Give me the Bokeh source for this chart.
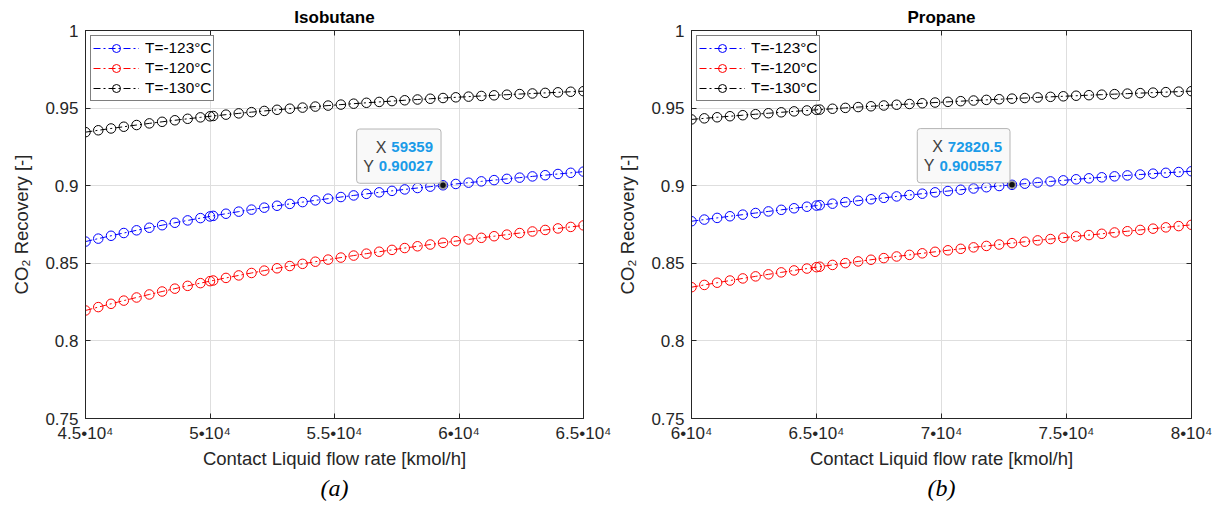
from bokeh.plotting import figure
from bokeh.layouts import row
from bokeh.models import Range1d, FixedTicker, LinearAxis, Title, Label, Legend, LegendItem
from bokeh.embed import file_html
from bokeh.resources import INLINE

FONT = "Liberation Sans"

# ---------------- data ----------------
iso_x = [45000.0, 45512.8, 46025.6, 46538.5, 47051.3, 47564.1, 48076.9, 48589.7, 49102.6, 49615.4,
         50128.2, 50641.0, 51153.8, 51666.7, 52179.5, 52692.3, 53205.1, 53717.9, 54230.8, 54743.6,
         55256.4, 55769.2, 56282.1, 56794.9, 57307.7, 57820.5, 58333.3, 58846.2, 59359.0, 59871.8,
         60384.6, 60897.4, 61410.3, 61923.1, 62435.9, 62948.7, 63461.5, 63974.4, 64487.2, 65000.0]
iso_T123 = [0.86400, 0.86590, 0.86774, 0.86952, 0.87125, 0.87292, 0.87455, 0.87612, 0.87764, 0.87912,
            0.88055, 0.88194, 0.88329, 0.88459, 0.88586, 0.88708, 0.88827, 0.88943, 0.89055, 0.89164,
            0.89270, 0.89373, 0.89474, 0.89571, 0.89667, 0.89760, 0.89851, 0.89940, 0.90027, 0.90112,
            0.90196, 0.90279, 0.90360, 0.90441, 0.90520, 0.90599, 0.90677, 0.90754, 0.90831, 0.90909]
iso_T120 = [0.81960, 0.82178, 0.82390, 0.82596, 0.82797, 0.82992, 0.83182, 0.83367, 0.83547, 0.83722,
            0.83892, 0.84058, 0.84219, 0.84376, 0.84529, 0.84679, 0.84824, 0.84965, 0.85103, 0.85239,
            0.85369, 0.85498, 0.85623, 0.85745, 0.85865, 0.85983, 0.86097, 0.86210, 0.86321, 0.86429,
            0.86536, 0.86642, 0.86745, 0.86848, 0.86949, 0.87050, 0.87148, 0.87247, 0.87344, 0.87442]
iso_T130 = [0.93450, 0.93571, 0.93687, 0.93800, 0.93910, 0.94015, 0.94117, 0.94216, 0.94311, 0.94403,
            0.94492, 0.94578, 0.94660, 0.94740, 0.94817, 0.94891, 0.94963, 0.95032, 0.95099, 0.95163,
            0.95225, 0.95285, 0.95342, 0.95398, 0.95452, 0.95504, 0.95554, 0.95603, 0.95650, 0.95695,
            0.95739, 0.95782, 0.95824, 0.95864, 0.95904, 0.95942, 0.95980, 0.96017, 0.96054, 0.96089]
iso_extra_x = 50000.0
iso_extra = [0.8802, 0.8385, 0.9447]          # T=-123, T=-120, T=-130
iso_tip_index = 28
iso_tip_text = ["59359", "0.90027"]

pro_x = [60000.0, 60512.8, 61025.6, 61538.5, 62051.3, 62564.1, 63076.9, 63589.7, 64102.6, 64615.4,
         65128.2, 65641.0, 66153.8, 66666.7, 67179.5, 67692.3, 68205.1, 68717.9, 69230.8, 69743.6,
         70256.4, 70769.2, 71282.1, 71794.9, 72307.7, 72820.5, 73333.3, 73846.2, 74359.0, 74871.8,
         75384.6, 75897.4, 76410.3, 76923.1, 77435.9, 77948.7, 78461.5, 78974.4, 79487.2, 80000.0]
pro_T123 = [0.87710, 0.87818, 0.87925, 0.88031, 0.88136, 0.88240, 0.88343, 0.88446, 0.88546, 0.88646,
            0.88745, 0.88842, 0.88938, 0.89032, 0.89126, 0.89218, 0.89309, 0.89398, 0.89485, 0.89572,
            0.89656, 0.89740, 0.89821, 0.89901, 0.89979, 0.900557, 0.90131, 0.90204, 0.90275, 0.90344,
            0.90412, 0.90477, 0.90541, 0.90603, 0.90663, 0.90720, 0.90776, 0.90830, 0.90881, 0.90930]
pro_T120 = [0.83460, 0.83606, 0.83749, 0.83889, 0.84025, 0.84158, 0.84288, 0.84415, 0.84540, 0.84661,
            0.84779, 0.84895, 0.85009, 0.85120, 0.85229, 0.85335, 0.85440, 0.85542, 0.85643, 0.85741,
            0.85838, 0.85933, 0.86027, 0.86119, 0.86210, 0.86300, 0.86389, 0.86476, 0.86563, 0.86648,
            0.86733, 0.86818, 0.86901, 0.86985, 0.87067, 0.87150, 0.87232, 0.87315, 0.87397, 0.87480]
pro_T130 = [0.94270, 0.94340, 0.94409, 0.94476, 0.94542, 0.94606, 0.94669, 0.94730, 0.94789, 0.94847,
            0.94904, 0.94959, 0.95014, 0.95066, 0.95118, 0.95168, 0.95217, 0.95265, 0.95312, 0.95358,
            0.95402, 0.95446, 0.95488, 0.95530, 0.95571, 0.95610, 0.95649, 0.95687, 0.95725, 0.95761,
            0.95797, 0.95832, 0.95866, 0.95900, 0.95933, 0.95965, 0.95997, 0.96029, 0.96060, 0.96090]
pro_extra_x = 65000.0
pro_extra = [0.8872, 0.8475, 0.9489]
pro_tip_index = 25
pro_tip_text = ["72820.5", "0.900557"]

series_labels = ["T=-123°C", "T=-120°C", "T=-130°C"]
series_colors = ["#0000ff", "#ff0000", "#000000"]

iso_xticks = [45000, 50000, 55000, 60000, 65000]
iso_xtick_labels = ["4.5•10⁴", "5•10⁴", "5.5•10⁴", "6•10⁴", "6.5•10⁴"]
pro_xticks = [60000, 65000, 70000, 75000, 80000]
pro_xtick_labels = ["6•10⁴", "6.5•10⁴", "7•10⁴", "7.5•10⁴", "8•10⁴"]
yticks = [0.75, 0.8, 0.85, 0.9, 0.95, 1.0]
ytick_labels = ["0.75", "0.8", "0.85", "0.9", "0.95", "1"]

titles = ["Isobutane", "Propane"]
captions = ["(a)", "(b)"]
x_label = "Contact Liquid flow rate [kmol/h]"
y_label = "CO\u2082 Recovery [-]"

AX = "#262626"
TIP_SIZE = 15
TIP_BG = "#f9f9f9"


def num_width(s, size):
    return sum(0.278 if ch == "." else 0.556 for ch in s) * size


def style_axis(ax, ticks, labels, size="17px"):
    ax.ticker = FixedTicker(ticks=ticks)
    ax.major_label_overrides = {t: l for t, l in zip(ticks, labels)}
    ax.major_tick_in = 5
    ax.major_tick_out = 0
    ax.minor_tick_line_color = None
    ax.axis_line_color = AX
    ax.major_tick_line_color = AX
    ax.major_label_text_color = AX
    ax.major_label_text_font = FONT
    ax.major_label_text_font_size = size
    ax.axis_label_text_font = FONT
    ax.axis_label_text_font_size = "18.5px"
    ax.axis_label_text_font_style = "normal"
    ax.axis_label_text_color = AX


def make_panel(title, caption, xs, ys_list, extra_x, extra_vals, tip_index, tip_text,
               xticks, xtick_labels, fw, bl, br):
    p = figure(frame_width=fw, frame_height=388,
               x_range=Range1d(xticks[0], xticks[-1]), y_range=Range1d(yticks[0], yticks[-1]),
               output_backend="svg", toolbar_location=None,
               min_border_left=bl, min_border_right=br, min_border_top=30, min_border_bottom=106,
               background_fill_color="white", border_fill_color="white")
    p.title.text = title
    p.title.align = "center"
    p.title.text_font = FONT
    p.title.text_font_size = "17px"
    p.title.text_font_style = "bold"
    p.title.text_color = "black"
    p.title.standoff = 8

    style_axis(p.xaxis[0], xticks, xtick_labels)
    style_axis(p.yaxis[0], yticks, ytick_labels)
    p.xaxis[0].axis_label = x_label
    p.yaxis[0].axis_label = y_label
    p.xaxis[0].major_label_standoff = 5
    p.xaxis[0].axis_label_standoff = 2
    p.yaxis[0].major_label_standoff = 7
    p.yaxis[0].axis_label_standoff = 10

    top = LinearAxis()
    style_axis(top, xticks, ["" for _ in xticks], "0px")
    top.major_label_standoff = 0
    p.add_layout(top, "above")
    right = LinearAxis()
    style_axis(right, yticks, ["" for _ in yticks], "0px")
    right.major_label_standoff = 0
    p.add_layout(right, "right")

    p.xgrid.ticker = FixedTicker(ticks=xticks)
    p.ygrid.ticker = FixedTicker(ticks=yticks)
    p.grid.grid_line_color = "#dedede"
    p.grid.grid_line_width = 1
    p.outline_line_color = AX
    p.outline_line_width = 1

    items = []
    for ys, ey, lab, col in zip(ys_list, extra_vals, series_labels, series_colors):
        pts = sorted(zip(list(xs) + [extra_x], list(ys) + [ey]))
        px = [a for a, _ in pts]
        py = [b for _, b in pts]
        lr = p.line(px, py, line_color=col, line_width=1, line_dash="7 3 2 3")
        sr = p.scatter(px, py, marker="circle", size=9.5, line_color=col, line_width=1,
                       fill_color=None)
        items.append(LegendItem(label=lab, renderers=[lr, sr]))

    leg = Legend(items=items, location="top_left", margin=5, padding=2, spacing=0,
                 glyph_width=46, glyph_height=20, label_height=20, label_standoff=6,
                 label_text_font=FONT, label_text_font_size="15.4px", label_text_color="black",
                 border_line_color="black", border_line_width=1,
                 background_fill_color="white", background_fill_alpha=1)
    p.add_layout(leg)

    # data tip
    tx = xs[tip_index]
    ty = ys_list[0][tip_index]
    p.scatter([tx], [ty], marker="circle", size=7, fill_color="#111111",
              line_color="#9a9a9a", line_width=1.5)
    box = Label(x=tx, y=ty, text="X " + tip_text[0] + "\nY " + tip_text[1],
                text_font=FONT, text_font_size="%dpx" % TIP_SIZE, text_font_style="bold",
                text_color=TIP_BG, text_align="right", text_baseline="bottom",
                text_line_height=1.25, x_offset=-2, y_offset=2, padding=8,
                background_fill_color=TIP_BG, background_fill_alpha=1,
                border_line_color="#b5b5b5", border_line_width=1, border_radius=3)
    p.add_layout(box)
    for letter, txt, yo in [("X", tip_text[0], 38), ("Y", tip_text[1], 19)]:
        p.add_layout(Label(x=tx, y=ty, text=txt, text_font=FONT,
                           text_font_size="%dpx" % TIP_SIZE, text_font_style="bold",
                           text_color="#1a9be8", text_align="right", text_baseline="middle",
                           x_offset=-10, y_offset=yo))
        p.add_layout(Label(x=tx, y=ty, text=letter, text_font=FONT,
                           text_font_size="16px", text_color="#404040",
                           text_align="right", text_baseline="middle",
                           x_offset=-10 - num_width(txt, TIP_SIZE) - 5, y_offset=yo))

    cap = Title(text=caption, align="center", text_font="Liberation Serif",
                text_font_style="italic", text_font_size="24px", text_color="black",
                standoff=3)
    p.add_layout(cap, "below")
    return p


p1 = make_panel(titles[0], captions[0], iso_x, [iso_T123, iso_T120, iso_T130],
                iso_extra_x, iso_extra, iso_tip_index, iso_tip_text,
                iso_xticks, iso_xtick_labels, 498, 85, 31)
p2 = make_panel(titles[1], captions[1], pro_x, [pro_T123, pro_T120, pro_T130],
                pro_extra_x, pro_extra, pro_tip_index, pro_tip_text,
                pro_xticks, pro_xtick_labels, 500, 77, 31)

layout = row(p1, p2, spacing=0)
open("out.html", "w").write(file_html(layout, INLINE))
